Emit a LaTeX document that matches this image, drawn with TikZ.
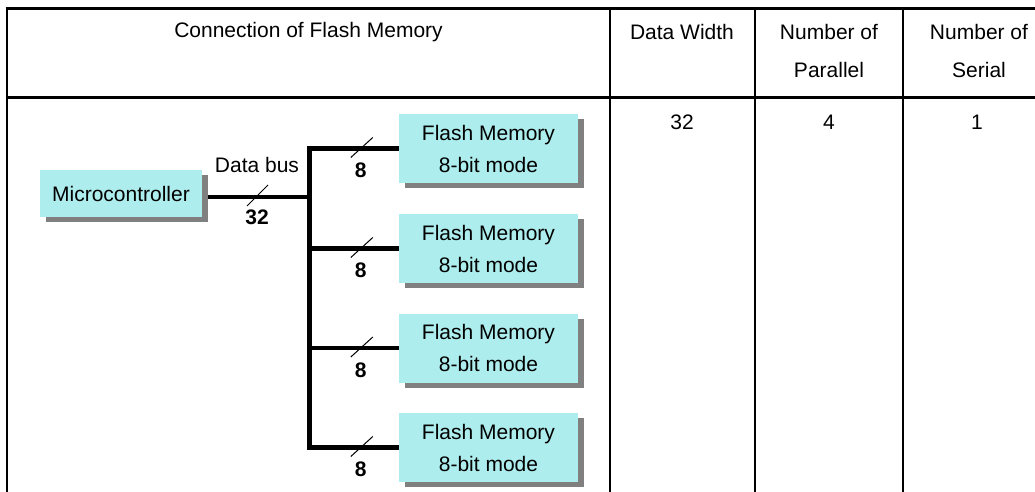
\documentclass[tikz,border=0pt]{standalone}
\usepackage{fontspec}
\setmainfont{Liberation Sans}
\usetikzlibrary{calc,backgrounds,shadows}
\definecolor{boxfill}{HTML}{AEEDED}
\definecolor{shadowgray}{HTML}{808080}
\tikzset{
  txt/.style={inner sep=0pt, font=\fontsize{21}{32}\selectfont},
  lbl/.style={inner sep=0pt, font=\fontsize{21}{32}\selectfont\bfseries},
  unitbox/.style={fill=boxfill, draw=none, inner sep=0pt, align=center,
    font=\fontsize{21}{32}\selectfont,
    drop shadow={shadow xshift=6pt, shadow yshift=-5pt, fill=shadowgray, opacity=1}},
  bus/.style={line width=4.5pt, line join=miter, line cap=butt},
  tick/.style={line width=1pt},
  rule/.style={line width=2pt},
  thickrule/.style={line width=3pt},
}
\begin{document}
\begin{tikzpicture}[x=1pt,y=-1pt]
\useasboundingbox (0,0) rectangle (1035,492);
% table
\draw[thickrule] (5.5,9) -- (1035,9);
\draw[thickrule] (5.5,97.5) -- (1035,97.5);
\draw[line width=2.5pt] (7,7.5) -- (7,492);
\draw[rule] (610,9) -- (610,492);
\draw[rule] (755,9) -- (755,492);
\draw[rule] (903,9) -- (903,492);
% header texts
\node[txt] (h1) at (308.5,32) {Connection of Flash Memory};
\node[txt] (h2) at (682,32) {Data Width};
\node[txt] (h3a) at (829,32) {Number of};
\node[txt] (h3b) at (829,70) {Parallel};
\node[txt] (h4a) at (979,32) {Number of};
\node[txt] (h4b) at (979,70) {Serial};
% data
\node[txt] (d1) at (682,122) {32};
\node[txt] (d2) at (829,122) {4};
\node[txt] (d3) at (977,122) {1};
% boxes
\node[unitbox, minimum width=162pt, minimum height=47pt] (mc) at (121,193.5) {Microcontroller};
\node[unitbox, minimum width=179pt, minimum height=69pt] (f1) at (488.5,148.5) {Flash Memory\\8-bit mode};
\node[unitbox, minimum width=179pt, minimum height=69pt] (f2) at (488.5,248.5) {Flash Memory\\8-bit mode};
\node[unitbox, minimum width=179pt, minimum height=69pt] (f3) at (488.5,348) {Flash Memory\\8-bit mode};
\node[unitbox, minimum width=179pt, minimum height=69pt] (f4) at (488.5,447.5) {Flash Memory\\8-bit mode};
\coordinate (j) at (309.5,197);
\begin{pgfonlayer}{background}
\draw[bus] (mc.east |- j) -- (j);
\draw[bus] (f1.west) -| (j) |- (f4.west);
\draw[bus] (j) |- (f2.west);
\draw[bus] (j) |- (f3.west);
\end{pgfonlayer}
% bus labels
\node[txt] (db) at (257,165) {Data bus};
\draw[tick] (247,206) -- (268,185);
\node[lbl] (w32) at (257,217) {32};
\foreach \f in {f1,f2,f3,f4}{
  \draw[tick] ($(\f.west)+(-48,9)$) -- ($(\f.west)+(-26,-11)$);
  \node[lbl] at ($(\f.west)+(-38,22)$) {8};
}
\end{tikzpicture}
\end{document}
